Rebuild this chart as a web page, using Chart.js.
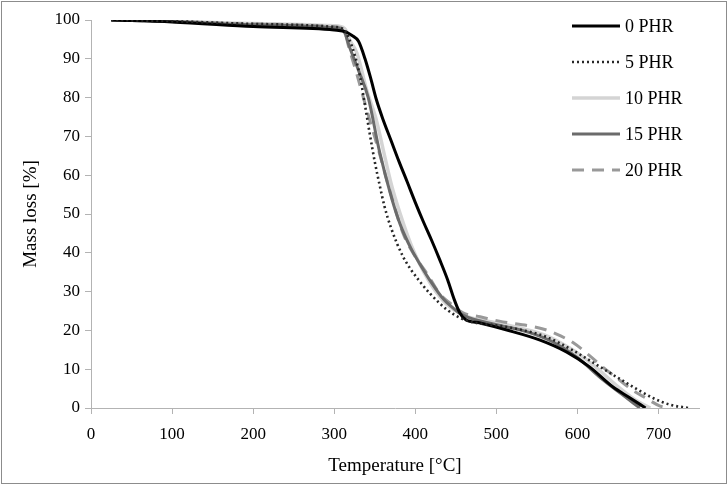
<!DOCTYPE html>
<html>
<head>
<meta charset="utf-8">
<script src="https://cdn.jsdelivr.net/npm/chart.js@4.4.1/dist/chart.umd.min.js"></script>
<style>
  html, body { margin: 0; padding: 0; background: #fff; }
  #wrap { width: 728px; height: 485px; position: relative; }
</style>
</head>
<body>
<div id="wrap"><canvas id="canvas" width="728" height="485"></canvas></div>
<script>
var seriesNames = ['0 PHR', '5 PHR', '10 PHR', '15 PHR', '20 PHR'];

var temp0 = [25, 100, 200, 300, 315, 322, 330, 338, 345, 352, 360, 370, 380, 390, 400, 410, 420, 430, 440, 448, 455, 462, 480, 513, 554, 587, 615, 644, 665, 684];
var mass0 = [100, 99.5, 98.3, 97.4, 96.9, 96, 94.5, 90, 85, 79.5, 74.5, 69, 63.5, 58.3, 53, 48, 43.3, 38.3, 33, 28, 24.5, 22.8, 21.9, 20.1, 17.5, 14.4, 10.6, 5.4, 2.6, 0];

var temp5 = [25, 100, 200, 300, 312, 319, 326, 332, 338, 344, 350, 356, 362, 370, 385, 406, 430, 446, 464, 513, 562, 594, 628, 661, 693, 715, 737];
var mass5 = [100, 99.7, 99, 98.2, 97.5, 94.8, 90.5, 85.3, 78, 70.5, 63.5, 57.5, 52, 46.5, 39, 32.5, 27, 24.3, 22.5, 20.9, 18.3, 14.9, 10.6, 6.4, 2.6, 0.8, 0];

var temp10 = [25, 100, 200, 300, 313, 320, 328, 340, 352, 360, 370, 381, 395, 416, 435, 450, 465, 500, 530, 560, 590, 620, 650, 672, 690];
var mass10 = [100, 99.7, 99.1, 98.5, 97.8, 94.5, 91.5, 82, 74.2, 67, 58, 50.3, 42, 33, 27.5, 25, 23.5, 22, 20.6, 18.8, 15.5, 11, 5.5, 2, 0];

var temp15 = [25, 100, 200, 300, 312, 319, 330, 342, 356, 371, 382, 395, 406, 420, 435, 450, 460, 500, 540, 570, 600, 630, 655, 677];
var mass15 = [100, 99.6, 98.8, 98, 97, 93, 87, 80, 66, 54, 47, 41, 37, 32.3, 28, 25.2, 23.8, 21.5, 19.5, 17, 13, 7.5, 3.5, 0];

var temp20 = [25, 100, 200, 300, 312, 318, 328, 340, 356, 370, 385, 400, 414, 430, 443, 459, 480, 508, 540, 562, 580, 595, 615, 631, 650, 668, 685, 702, 715];
var mass20 = [100, 99.6, 99, 98.3, 97.5, 93, 86, 77, 65.5, 55, 45, 39, 34.8, 29.5, 27, 24.5, 23.5, 22.2, 21.2, 20.1, 18.5, 16.8, 13.5, 10.6, 7.5, 4.6, 2.5, 0.5, 0];

var xTicks = [0, 100, 200, 300, 400, 500, 600, 700];
var yTicks = [0, 10, 20, 30, 40, 50, 60, 70, 80, 90, 100];

function pairs(xs, ys) {
  var out = [];
  for (var i = 0; i < xs.length; i++) out.push({ x: xs[i], y: ys[i] });
  return out;
}

var styles = [
  { color: '#000000', width: 3, dash: [] },
  { color: '#262626', width: 2.6, dash: [2, 3] },
  { color: '#d4d4d4', width: 3.5, dash: [] },
  { color: '#6b6b6b', width: 3, dash: [] },
  { color: '#999999', width: 3, dash: [12, 8] }
];

var allTemps = [temp0, temp5, temp10, temp15, temp20];
var allMass = [mass0, mass5, mass10, mass15, mass20];

var datasets = [];
for (var i = 0; i < seriesNames.length; i++) {
  datasets.push({
    label: seriesNames[i],
    data: pairs(allTemps[i], allMass[i]),
    borderColor: styles[i].color,
    borderWidth: styles[i].width,
    borderDash: styles[i].dash,
    pointRadius: 0,
    fill: false,
    cubicInterpolationMode: 'monotone'
  });
}
// draw order: lighter lines underneath, like the original
var order = [2, 4, 3, 0, 1];
datasets.forEach(function (d, i) { d.order = -order.indexOf(i); });

var serif = "'Liberation Serif', 'Times New Roman', serif";

var frameAndLegend = {
  id: 'frameAndLegend',
  afterDraw: function (chart) {
    var ctx = chart.ctx;
    ctx.save();
    ctx.strokeStyle = '#8c8c8c';
    ctx.lineWidth = 1;
    ctx.setLineDash([]);
    ctx.strokeRect(1.5, 1.5, 725, 482);

    var rowY = [26, 62, 98, 134, 170];
    ctx.font = '18px ' + serif;
    ctx.textBaseline = 'middle';
    ctx.textAlign = 'left';
    for (var i = 0; i < seriesNames.length; i++) {
      ctx.beginPath();
      ctx.strokeStyle = styles[i].color;
      ctx.lineWidth = styles[i].width;
      ctx.setLineDash(styles[i].dash);
      ctx.moveTo(572, rowY[i]);
      ctx.lineTo(620, rowY[i]);
      ctx.stroke();
      ctx.fillStyle = '#000';
      ctx.fillText(seriesNames[i], 625, rowY[i] + 1);
    }
    ctx.restore();
  }
};

var ctx = document.getElementById('canvas').getContext('2d');
new Chart(ctx, {
  type: 'line',
  data: { datasets: datasets },
  plugins: [frameAndLegend],
  options: {
    responsive: false,
    animation: false,
    layout: { padding: { top: 20, right: 29, bottom: 0, left: 0 } },
    plugins: { legend: { display: false }, tooltip: { enabled: false } },
    scales: {
      x: {
        type: 'linear',
        min: 0,
        max: 750,
        afterFit: function (s) { s.height = 77; },
        afterBuildTicks: function (s) { s.ticks = xTicks.map(function (v) { return { value: v }; }); },
        grid: { drawOnChartArea: false, color: '#b3b3b3', tickLength: 6 },
        border: { color: '#b3b3b3', width: 1 },
        ticks: { color: '#000', font: { family: serif, size: 17 }, padding: 10, maxRotation: 0 },
        title: { display: true, text: 'Temperature [°C]', color: '#000', font: { family: serif, size: 19 }, padding: { top: 0, bottom: 8 } }
      },
      y: {
        min: 0,
        max: 100,
        afterFit: function (s) { s.width = 91; },
        afterBuildTicks: function (s) { s.ticks = yTicks.map(function (v) { return { value: v }; }); },
        grid: { drawOnChartArea: false, color: '#b3b3b3', tickLength: 6 },
        border: { color: '#b3b3b3', width: 1 },
        ticks: { color: '#000', font: { family: serif, size: 17 }, padding: 5 },
        title: { display: true, text: 'Mass loss [%]', color: '#000', font: { family: serif, size: 19 }, padding: { top: 20 } }
      }
    }
  }
});
</script>
</body>
</html>
